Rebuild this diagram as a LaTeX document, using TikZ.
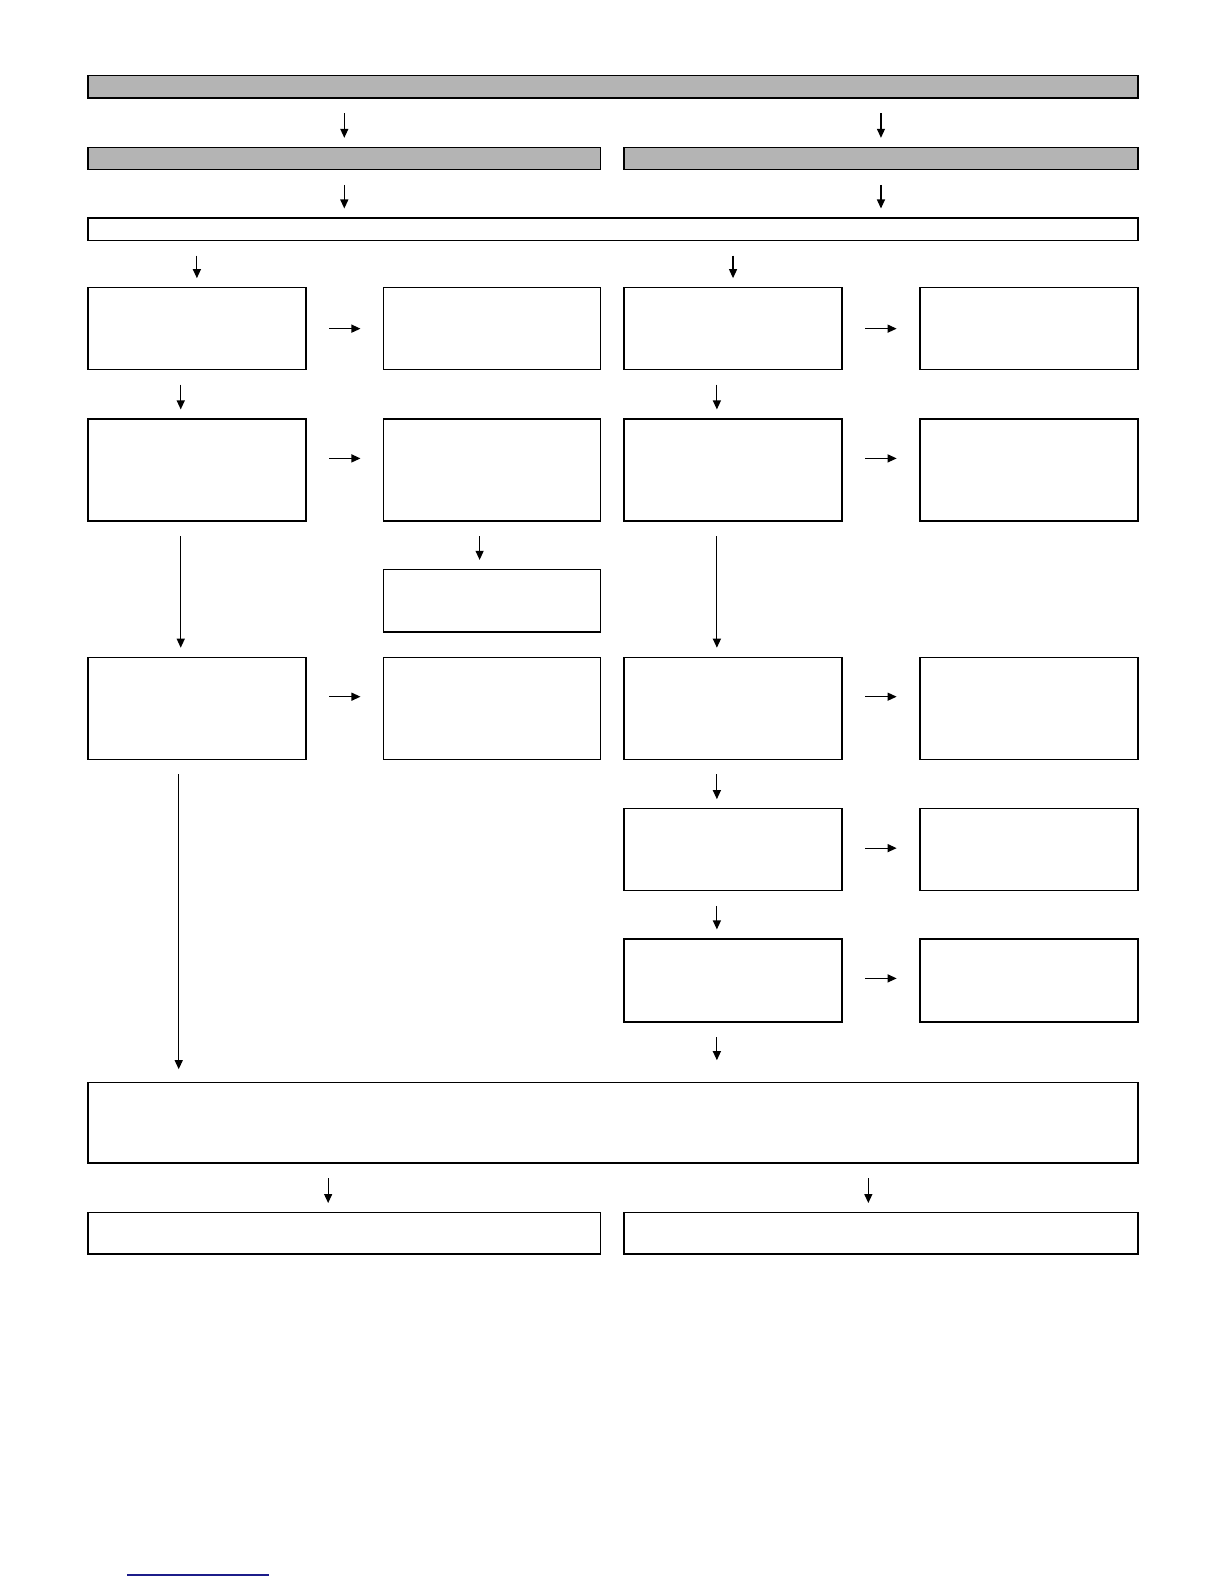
\documentclass[tikz,border=0pt]{standalone}
\usetikzlibrary{arrows.meta,calc,fit}
\definecolor{barGray}{HTML}{B4B4B4}
\definecolor{blueLine}{HTML}{1C1C8A}
\begin{document}
\begin{tikzpicture}[x=0.5048pt,y=-0.5048pt,
  box/.style={draw,line width=0.7pt,inner sep=0pt,outer sep=0pt},
  gbox/.style={box,fill=barGray},
  arr/.style={line width=0.6pt,-{Triangle[length=4.5pt,width=4pt]}},
  vd/.style={arr,shorten <=7.6pt,shorten >=4.8pt},
  hd/.style={arr,shorten <=11.6pt,shorten >=11.6pt}]
\useasboundingbox (0,0) rectangle (1212.2,1568.8);
% boxes
\node[gbox,fit={(87,75) (1127,97)}] (top) {};
\node[gbox,fit={(87,146) (595,168)}] (gl) {};
\node[gbox,fit={(618,146) (1127,168)}] (gr) {};
\node[box,fit={(87,216) (1127,238)}] (wb) {};
\node[box,fit={(87,285) (303,366)}] (a1) {};
\node[box,fit={(380,285) (595,366)}] (b1) {};
\node[box,fit={(618,285) (834,366)}] (c1) {};
\node[box,fit={(911,285) (1127,366)}] (d1) {};
\node[box,fit={(87,415) (303,516)}] (a2) {};
\node[box,fit={(380,415) (595,516)}] (b2) {};
\node[box,fit={(618,415) (834,516)}] (c2) {};
\node[box,fit={(911,415) (1127,516)}] (d2) {};
\node[box,fit={(380,564) (595,626)}] (bx) {};
\node[box,fit={(87,651) (303,752)}] (a3) {};
\node[box,fit={(380,651) (595,752)}] (b3) {};
\node[box,fit={(618,651) (834,752)}] (c3) {};
\node[box,fit={(911,651) (1127,752)}] (d3) {};
\node[box,fit={(618,801) (834,882)}] (c4) {};
\node[box,fit={(911,801) (1127,882)}] (d4) {};
\node[box,fit={(618,930) (834,1012)}] (c5) {};
\node[box,fit={(911,930) (1127,1012)}] (d5) {};
\node[box,fit={(87,1072) (1127,1152)}] (big) {};
\node[box,fit={(87,1201) (595,1242)}] (bl) {};
\node[box,fit={(618,1201) (1127,1242)}] (br) {};
% vertical arrows, top part
\draw[vd] (top.south -| gl.north) -- (gl.north);
\draw[vd] (top.south -| gr.north) -- (gr.north);
\draw[vd] (gl.south) -- (gl.south |- wb.north);
\draw[vd] (gr.south) -- (gr.south |- wb.north);
\draw[vd] (wb.south -| a1.north) -- (a1.north);
\draw[vd] (wb.south -| c1.north) -- (c1.north);
% horizontal arrows
\draw[hd] (a1.east) -- (b1.west);
\draw[hd] (c1.east) -- (d1.west);
\draw[hd] ($(a2.east)+(0,-11.5)$) -- ($(b2.west)+(0,-11.5)$);
\draw[hd] ($(c2.east)+(0,-11.5)$) -- ($(d2.west)+(0,-11.5)$);
\draw[hd] ($(a3.east)+(0,-11.5)$) -- ($(b3.west)+(0,-11.5)$);
\draw[hd] ($(c3.east)+(0,-11.5)$) -- ($(d3.west)+(0,-11.5)$);
\draw[hd] ($(c4.east)+(0,-1.5)$) -- ($(d4.west)+(0,-1.5)$);
\draw[hd] ($(c5.east)+(0,-2)$) -- ($(d5.west)+(0,-2)$);
% vertical arrows, inner
\draw[vd] ($(a1.south)+(-16,0)$) -- ($(a2.north)+(-16,0)$);
\draw[vd] ($(c1.south)+(-16,0)$) -- ($(c2.north)+(-16,0)$);
\draw[vd] ($(a2.south)+(-16,0)$) -- ($(a3.north)+(-16,0)$);
\draw[vd] ($(c2.south)+(-16,0)$) -- ($(c3.north)+(-16,0)$);
\draw[vd] ($(b2.south)+(-12.5,0)$) -- ($(bx.north)+(-12.5,0)$);
\draw[vd] ($(c3.south)+(-16,0)$) -- ($(c4.north)+(-16,0)$);
\draw[vd] ($(c4.south)+(-16,0)$) -- ($(c5.north)+(-16,0)$);
\coordinate (a3d) at ($(a3.south)+(-18,0)$);
\draw[vd,shorten >=6.6pt] (a3d) -- (a3d |- big.north);
\coordinate (c5d) at ($(c5.south)+(-16,0)$);
\draw[vd,shorten >=11.1pt] (c5d) -- (c5d |- big.north);
\coordinate (bld) at ($(bl.north)+(-16,0)$);
\coordinate (brd) at ($(br.north)+(-12.5,0)$);
\draw[vd] (bld |- big.south) -- (bld);
\draw[vd] (brd |- big.south) -- (brd);
% blue rule at the foot of the page
\coordinate (bl1) at (125.8,1560);
\coordinate (bl2) at (266.4,1560);
\draw[line width=0.8pt,blueLine] (bl1) -- (bl2);
\end{tikzpicture}
\end{document}
